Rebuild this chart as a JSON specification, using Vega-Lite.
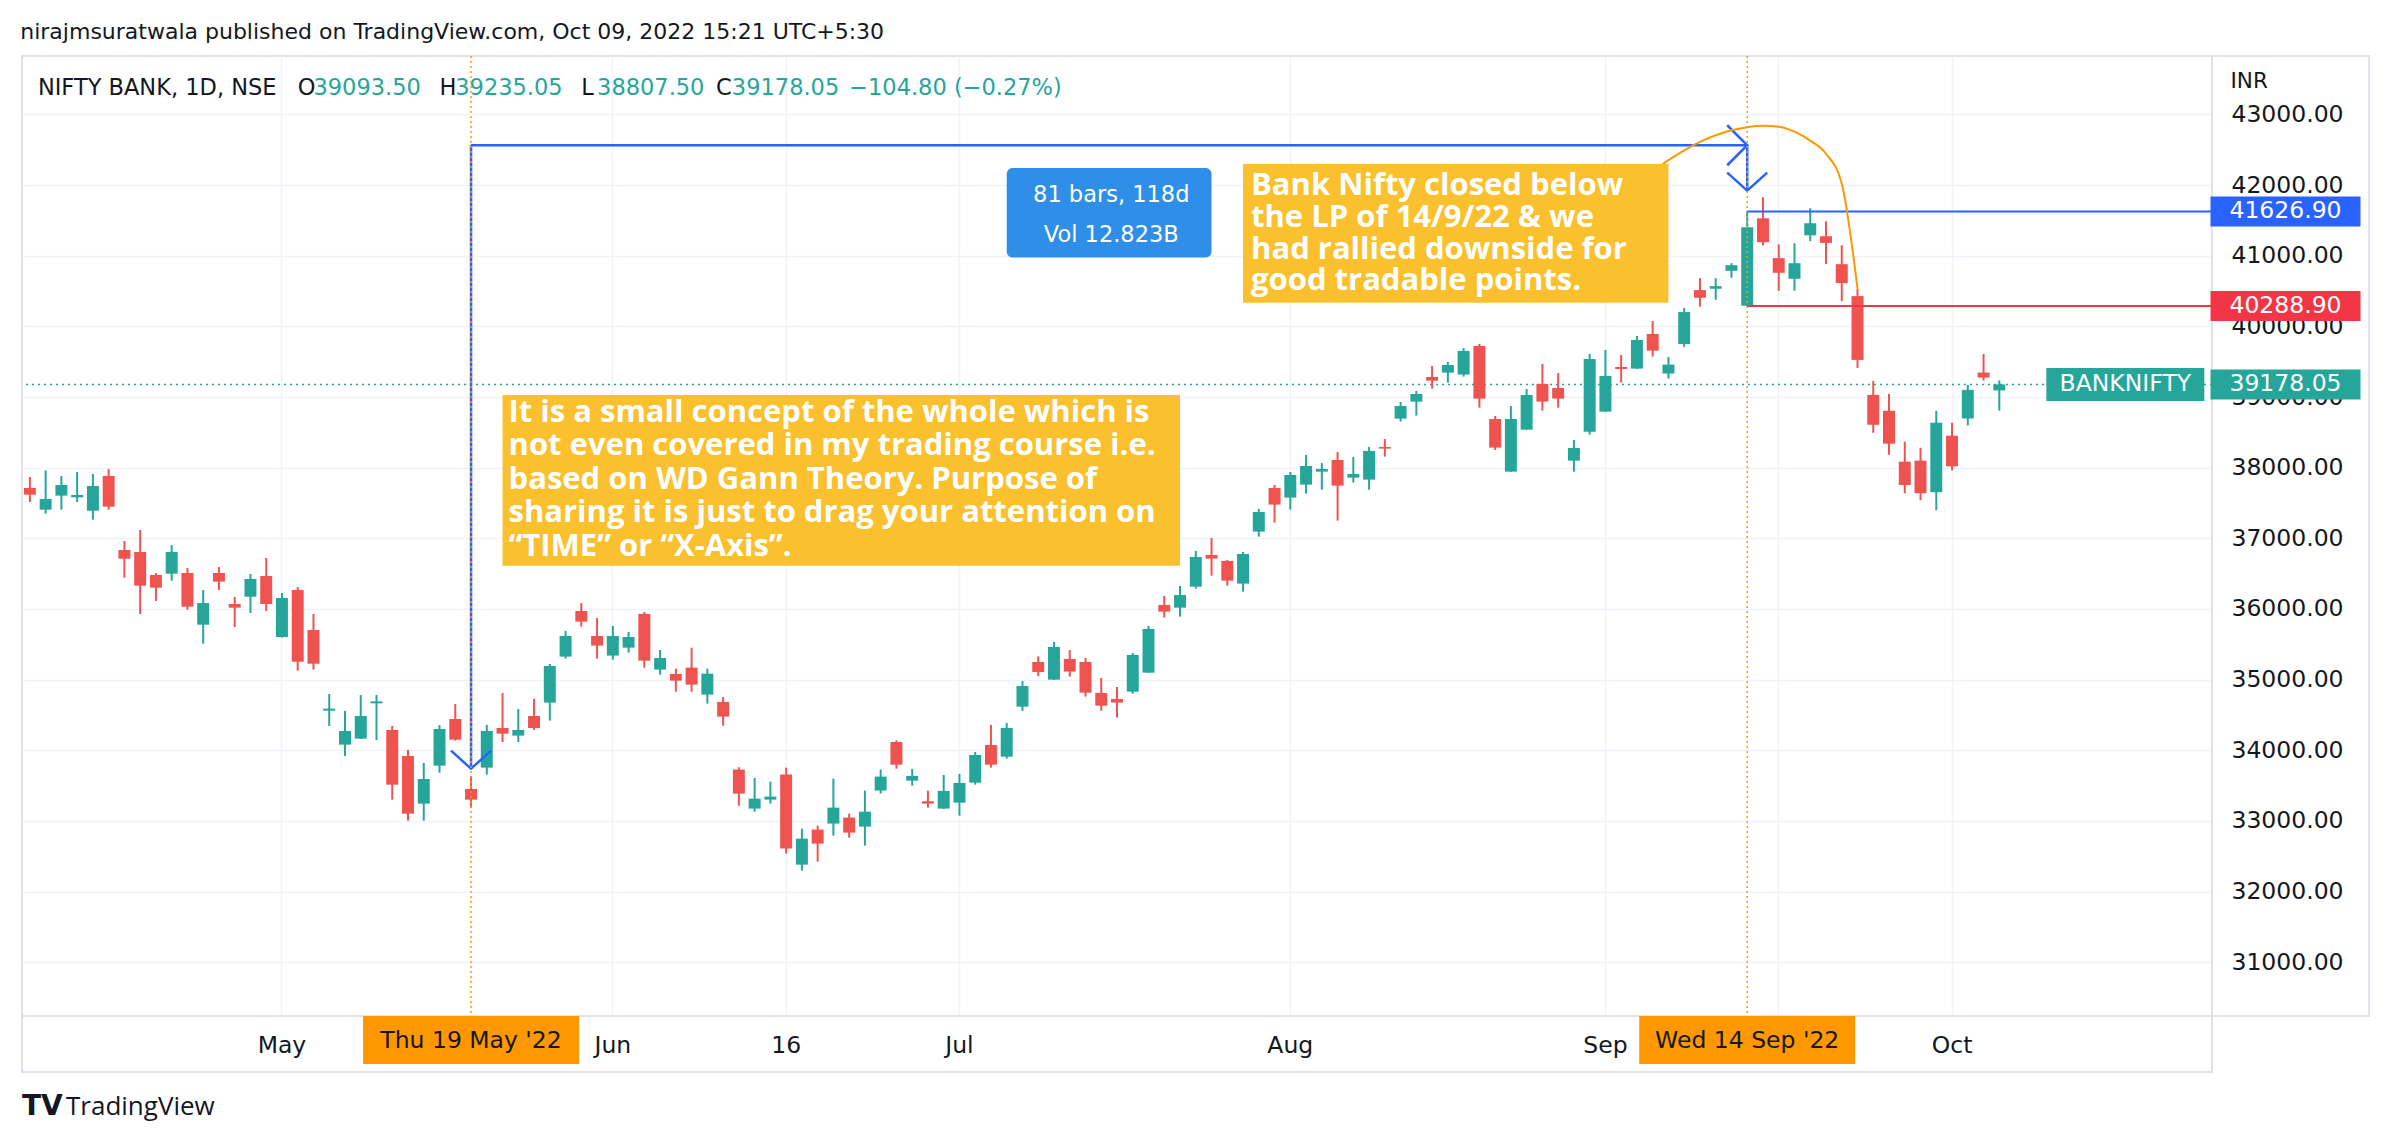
{
  "$schema": "https://vega.github.io/schema/vega-lite/v6.json",
  "padding": {"left": 20, "top": 21, "right": 21, "bottom": 0},
  "background": "#ffffff",
  "bounds": "flush",
  "spacing": 0,
  "columns": 2,
  "title": {"text": "nirajmsuratwala published on TradingView.com, Oct 09, 2022 15:21 UTC+5:30", "anchor": "start", "font": "DejaVu Sans", "fontSize": 22, "fontWeight": "normal", "color": "#131722", "offset": 10},
  "config": {"view": {"stroke": "#E0E3EB", "strokeWidth": 2}, "font": "DejaVu Sans"},
  "datasets": {
    "ohlc": [
      {"d":"2022-04-06","o":37712,"h":37868,"l":37514,"c":37618},
      {"d":"2022-04-07","o":37406,"h":37962,"l":37349,"c":37557},
      {"d":"2022-04-08","o":37604,"h":37882,"l":37406,"c":37755},
      {"d":"2022-04-11","o":37580,"h":37939,"l":37514,"c":37613},
      {"d":"2022-04-12","o":37391,"h":37910,"l":37264,"c":37741},
      {"d":"2022-04-13","o":37882,"h":37981,"l":37406,"c":37448},
      {"d":"2022-04-18","o":36835,"h":36962,"l":36443,"c":36712},
      {"d":"2022-04-19","o":36807,"h":37118,"l":35929,"c":36330},
      {"d":"2022-04-20","o":36481,"h":36509,"l":36113,"c":36302},
      {"d":"2022-04-21","o":36500,"h":36906,"l":36401,"c":36807},
      {"d":"2022-04-22","o":36509,"h":36580,"l":35990,"c":36033},
      {"d":"2022-04-25","o":35778,"h":36269,"l":35509,"c":36085},
      {"d":"2022-04-26","o":36509,"h":36594,"l":36269,"c":36387},
      {"d":"2022-04-27","o":36071,"h":36170,"l":35745,"c":36019},
      {"d":"2022-04-28","o":36174,"h":36495,"l":35943,"c":36425},
      {"d":"2022-04-29","o":36467,"h":36722,"l":35972,"c":36071},
      {"d":"2022-05-02","o":35604,"h":36226,"l":35595,"c":36156},
      {"d":"2022-05-04","o":36269,"h":36311,"l":35127,"c":35255},
      {"d":"2022-05-05","o":35703,"h":35929,"l":35141,"c":35226},
      {"d":"2022-05-06","o":34561,"h":34797,"l":34344,"c":34590},
      {"d":"2022-05-09","o":34080,"h":34557,"l":33920,"c":34274},
      {"d":"2022-05-10","o":34165,"h":34783,"l":34160,"c":34486},
      {"d":"2022-05-11","o":34665,"h":34783,"l":34146,"c":34693},
      {"d":"2022-05-12","o":34288,"h":34344,"l":33302,"c":33514},
      {"d":"2022-05-13","o":33920,"h":34005,"l":33005,"c":33104},
      {"d":"2022-05-16","o":33245,"h":33821,"l":33005,"c":33594},
      {"d":"2022-05-17","o":33783,"h":34358,"l":33684,"c":34302},
      {"d":"2022-05-18","o":34443,"h":34656,"l":34137,"c":34151},
      {"d":"2022-05-19","o":33453,"h":33637,"l":33189,"c":33302},
      {"d":"2022-05-20","o":33755,"h":34359,"l":33656,"c":34274},
      {"d":"2022-05-23","o":34316,"h":34812,"l":34118,"c":34236},
      {"d":"2022-05-24","o":34208,"h":34585,"l":34118,"c":34288},
      {"d":"2022-05-25","o":34486,"h":34727,"l":34288,"c":34316},
      {"d":"2022-05-26","o":34675,"h":35222,"l":34420,"c":35194},
      {"d":"2022-05-27","o":35326,"h":35689,"l":35298,"c":35618},
      {"d":"2022-05-30","o":35972,"h":36085,"l":35750,"c":35821},
      {"d":"2022-05-31","o":35618,"h":35873,"l":35298,"c":35482},
      {"d":"2022-06-01","o":35340,"h":35760,"l":35283,"c":35618},
      {"d":"2022-06-02","o":35453,"h":35675,"l":35382,"c":35604},
      {"d":"2022-06-03","o":35930,"h":35958,"l":35170,"c":35269},
      {"d":"2022-06-06","o":35142,"h":35420,"l":35071,"c":35307},
      {"d":"2022-06-07","o":35080,"h":35156,"l":34830,"c":34986},
      {"d":"2022-06-08","o":35170,"h":35453,"l":34830,"c":34930},
      {"d":"2022-06-09","o":34788,"h":35156,"l":34661,"c":35085},
      {"d":"2022-06-10","o":34684,"h":34755,"l":34349,"c":34477},
      {"d":"2022-06-13","o":33727,"h":33760,"l":33217,"c":33387},
      {"d":"2022-06-14","o":33175,"h":33609,"l":33132,"c":33316},
      {"d":"2022-06-15","o":33302,"h":33557,"l":33246,"c":33345},
      {"d":"2022-06-16","o":33656,"h":33755,"l":32538,"c":32609},
      {"d":"2022-06-17","o":32382,"h":32892,"l":32297,"c":32750},
      {"d":"2022-06-20","o":32878,"h":32934,"l":32425,"c":32680},
      {"d":"2022-06-21","o":32963,"h":33599,"l":32793,"c":33189},
      {"d":"2022-06-22","o":33048,"h":33104,"l":32764,"c":32835},
      {"d":"2022-06-23","o":32920,"h":33430,"l":32651,"c":33132},
      {"d":"2022-06-24","o":33430,"h":33727,"l":33387,"c":33628},
      {"d":"2022-06-27","o":34118,"h":34142,"l":33741,"c":33797},
      {"d":"2022-06-28","o":33571,"h":33736,"l":33500,"c":33637},
      {"d":"2022-06-29","o":33279,"h":33430,"l":33189,"c":33246},
      {"d":"2022-06-30","o":33175,"h":33651,"l":33170,"c":33425},
      {"d":"2022-07-01","o":33259,"h":33665,"l":33075,"c":33538},
      {"d":"2022-07-04","o":33542,"h":33976,"l":33514,"c":33934},
      {"d":"2022-07-05","o":34075,"h":34359,"l":33755,"c":33797},
      {"d":"2022-07-06","o":33910,"h":34387,"l":33882,"c":34316},
      {"d":"2022-07-07","o":34618,"h":34980,"l":34557,"c":34910},
      {"d":"2022-07-08","o":35250,"h":35330,"l":35050,"c":35109},
      {"d":"2022-07-11","o":35000,"h":35533,"l":34995,"c":35463},
      {"d":"2022-07-12","o":35293,"h":35420,"l":35043,"c":35114},
      {"d":"2022-07-13","o":35250,"h":35307,"l":34760,"c":34816},
      {"d":"2022-07-14","o":34812,"h":35024,"l":34562,"c":34632},
      {"d":"2022-07-15","o":34727,"h":34897,"l":34463,"c":34675},
      {"d":"2022-07-18","o":34830,"h":35378,"l":34802,"c":35349},
      {"d":"2022-07-19","o":35099,"h":35760,"l":35095,"c":35717},
      {"d":"2022-07-20","o":36057,"h":36184,"l":35878,"c":35963},
      {"d":"2022-07-21","o":36019,"h":36326,"l":35892,"c":36198},
      {"d":"2022-07-22","o":36316,"h":36821,"l":36288,"c":36736},
      {"d":"2022-07-25","o":36764,"h":37005,"l":36472,"c":36713},
      {"d":"2022-07-26","o":36680,"h":36694,"l":36330,"c":36401},
      {"d":"2022-07-27","o":36359,"h":36807,"l":36246,"c":36779},
      {"d":"2022-07-28","o":37095,"h":37416,"l":37024,"c":37373},
      {"d":"2022-07-29","o":37713,"h":37755,"l":37222,"c":37477},
      {"d":"2022-08-01","o":37576,"h":37939,"l":37406,"c":37897},
      {"d":"2022-08-02","o":37760,"h":38180,"l":37633,"c":38024},
      {"d":"2022-08-03","o":37944,"h":38067,"l":37689,"c":37982},
      {"d":"2022-08-04","o":38109,"h":38222,"l":37251,"c":37746},
      {"d":"2022-08-05","o":37859,"h":38152,"l":37788,"c":37911},
      {"d":"2022-08-08","o":37831,"h":38293,"l":37689,"c":38237},
      {"d":"2022-08-10","o":38293,"h":38406,"l":38156,"c":38270},
      {"d":"2022-08-11","o":38694,"h":38930,"l":38652,"c":38873},
      {"d":"2022-08-12","o":38935,"h":39086,"l":38737,"c":39043},
      {"d":"2022-08-16","o":39284,"h":39439,"l":39119,"c":39232},
      {"d":"2022-08-17","o":39345,"h":39496,"l":39203,"c":39453},
      {"d":"2022-08-18","o":39317,"h":39694,"l":39288,"c":39652},
      {"d":"2022-08-19","o":39722,"h":39751,"l":38850,"c":38977},
      {"d":"2022-08-22","o":38689,"h":38732,"l":38251,"c":38284},
      {"d":"2022-08-23","o":37944,"h":38873,"l":37940,"c":38689},
      {"d":"2022-08-24","o":38538,"h":39114,"l":38535,"c":39029},
      {"d":"2022-08-25","o":39185,"h":39468,"l":38807,"c":38935},
      {"d":"2022-08-26","o":39128,"h":39340,"l":38850,"c":38977},
      {"d":"2022-08-29","o":38100,"h":38392,"l":37944,"c":38279},
      {"d":"2022-08-30","o":38510,"h":39609,"l":38468,"c":39538},
      {"d":"2022-09-01","o":38793,"h":39666,"l":38790,"c":39298},
      {"d":"2022-09-02","o":39425,"h":39595,"l":39203,"c":39397},
      {"d":"2022-09-05","o":39402,"h":39864,"l":39398,"c":39807},
      {"d":"2022-09-06","o":39892,"h":40076,"l":39571,"c":39656},
      {"d":"2022-09-07","o":39332,"h":39567,"l":39261,"c":39459},
      {"d":"2022-09-08","o":39750,"h":40259,"l":39708,"c":40202},
      {"d":"2022-09-09","o":40513,"h":40682,"l":40278,"c":40405},
      {"d":"2022-09-12","o":40532,"h":40682,"l":40376,"c":40569},
      {"d":"2022-09-13","o":40786,"h":40894,"l":40687,"c":40866},
      {"d":"2022-09-14","o":40292,"h":41626.9,"l":40288.9,"c":41402},
      {"d":"2022-09-15","o":41529,"h":41826,"l":41148,"c":41191},
      {"d":"2022-09-16","o":40965,"h":41162,"l":40504,"c":40758},
      {"d":"2022-09-19","o":40673,"h":41176,"l":40504,"c":40894},
      {"d":"2022-09-20","o":41289,"h":41671,"l":41205,"c":41459},
      {"d":"2022-09-21","o":41275,"h":41487,"l":40880,"c":41181},
      {"d":"2022-09-22","o":40880,"h":41148,"l":40358,"c":40612},
      {"d":"2022-09-23","o":40428,"h":40527,"l":39412,"c":39525},
      {"d":"2022-09-26","o":39030,"h":39228,"l":38494,"c":38607},
      {"d":"2022-09-27","o":38805,"h":39045,"l":38183,"c":38339},
      {"d":"2022-09-28","o":38085,"h":38367,"l":37638,"c":37755},
      {"d":"2022-09-29","o":38099,"h":38282,"l":37539,"c":37638},
      {"d":"2022-09-30","o":37652,"h":38805,"l":37398,"c":38635},
      {"d":"2022-10-03","o":38452,"h":38635,"l":37962,"c":38019},
      {"d":"2022-10-04","o":38696,"h":39172,"l":38598,"c":39101},
      {"d":"2022-10-06","o":39346,"h":39609,"l":39233,"c":39275},
      {"d":"2022-10-07","o":39093.5,"h":39235.05,"l":38807.5,"c":39178.05}
    ]
  },
  "concat": [
    {
      "width": 2190,
      "height": 960,
      "layer": [
        {
          "data": {"values": [{"p": 39178.05}]},
          "mark": {"type": "rule", "color": "#26A69A", "strokeWidth": 1.5, "strokeDash": [2, 4]},
          "encoding": {"y": {"field": "p", "type": "quantitative"}}
        },
        {
          "data": {"name": "ohlc"},
          "mark": {"type": "rule", "strokeWidth": 2},
          "encoding": {
            "x": {
              "field": "d", "type": "ordinal",
              "scale": {"type": "band", "paddingInner": 0, "paddingOuter": 0, "domain": ["2022-04-06","2022-04-07","2022-04-08","2022-04-11","2022-04-12","2022-04-13","2022-04-18","2022-04-19","2022-04-20","2022-04-21","2022-04-22","2022-04-25","2022-04-26","2022-04-27","2022-04-28","2022-04-29","2022-05-02","2022-05-04","2022-05-05","2022-05-06","2022-05-09","2022-05-10","2022-05-11","2022-05-12","2022-05-13","2022-05-16","2022-05-17","2022-05-18","2022-05-19","2022-05-20","2022-05-23","2022-05-24","2022-05-25","2022-05-26","2022-05-27","2022-05-30","2022-05-31","2022-06-01","2022-06-02","2022-06-03","2022-06-06","2022-06-07","2022-06-08","2022-06-09","2022-06-10","2022-06-13","2022-06-14","2022-06-15","2022-06-16","2022-06-17","2022-06-20","2022-06-21","2022-06-22","2022-06-23","2022-06-24","2022-06-27","2022-06-28","2022-06-29","2022-06-30","2022-07-01","2022-07-04","2022-07-05","2022-07-06","2022-07-07","2022-07-08","2022-07-11","2022-07-12","2022-07-13","2022-07-14","2022-07-15","2022-07-18","2022-07-19","2022-07-20","2022-07-21","2022-07-22","2022-07-25","2022-07-26","2022-07-27","2022-07-28","2022-07-29","2022-08-01","2022-08-02","2022-08-03","2022-08-04","2022-08-05","2022-08-08","2022-08-10","2022-08-11","2022-08-12","2022-08-16","2022-08-17","2022-08-18","2022-08-19","2022-08-22","2022-08-23","2022-08-24","2022-08-25","2022-08-26","2022-08-29","2022-08-30","2022-09-01","2022-09-02","2022-09-05","2022-09-06","2022-09-07","2022-09-08","2022-09-09","2022-09-12","2022-09-13","2022-09-14","2022-09-15","2022-09-16","2022-09-19","2022-09-20","2022-09-21","2022-09-22","2022-09-23","2022-09-26","2022-09-27","2022-09-28","2022-09-29","2022-09-30","2022-10-03","2022-10-04","2022-10-06","2022-10-07","2022-10-10","2022-10-11","2022-10-12","2022-10-13","2022-10-14","2022-10-17","2022-10-18","2022-10-19","2022-10-20","2022-10-21","2022-10-24","2022-10-25","2022-10-27"]},
              "axis": {"values": ["2022-05-02","2022-06-01","2022-06-16","2022-07-01","2022-08-01","2022-09-01","2022-09-16","2022-10-03"], "grid": true, "gridColor": "#F0F3FA", "gridWidth": 1.5, "labels": false, "ticks": false, "domain": false, "title": null, "bandPosition": 0.5}
            },
            "y": {
              "field": "l", "type": "quantitative",
              "scale": {"domain": [30240, 43826], "nice": false, "zero": false},
              "axis": {"values": [31000,32000,33000,34000,35000,36000,37000,38000,39000,40000,41000,42000,43000], "grid": true, "gridColor": "#F0F3FA", "gridWidth": 1.5, "labels": false, "ticks": false, "domain": false, "title": null}
            },
            "y2": {"field": "h"},
            "color": {"condition": {"test": "datum.c >= datum.o", "value": "#26A69A"}, "value": "#EF5350"}
          }
        },
        {
          "data": {"name": "ohlc"},
          "mark": {"type": "bar", "width": {"band": 0.76}},
          "encoding": {
            "x": {"field": "d", "type": "ordinal"},
            "y": {"field": "o", "type": "quantitative"},
            "y2": {"field": "c"},
            "color": {"condition": {"test": "datum.c >= datum.o", "value": "#26A69A"}, "value": "#EF5350"}
          }
        },
        {
          "data": {"values": [
            {"d": "2022-05-19", "d2": "2022-09-14", "p": 42563, "p2": 42563},
            {"d": "2022-05-19", "d2": "2022-05-19", "p": 42563, "p2": 33740},
            {"d": "2022-09-14", "d2": "2022-09-14", "p": 42563, "p2": 41920}
          ]},
          "mark": {"type": "rule", "color": "#2962FF", "strokeWidth": 2.5},
          "encoding": {
            "x": {"field": "d", "type": "ordinal"},
            "x2": {"field": "d2"},
            "y": {"field": "p", "type": "quantitative"},
            "y2": {"field": "p2"}
          }
        },
        {
          "data": {"values": [
            {"d": "2022-05-19", "p": 33740, "k": "down"},
            {"d": "2022-09-14", "p": 41920, "k": "down"},
            {"d": "2022-09-14", "p": 42563, "k": "right"}
          ]},
          "mark": {"type": "point", "filled": false, "size": 1600, "strokeWidth": 2.5, "color": "#2962FF", "opacity": 1},
          "encoding": {
            "x": {"field": "d", "type": "ordinal"},
            "y": {"field": "p", "type": "quantitative"},
            "shape": {"condition": {"test": "datum.k == 'right'", "value": "M-1,-1L0,0L-1,1"}, "value": "M-1,-0.9L0,0L1,-0.9"}
          }
        },
        {
          "data": {"values": [{"d": "2022-05-19"}, {"d": "2022-09-14"}]},
          "mark": {"type": "rule", "color": "#FF9800", "strokeWidth": 1.5, "strokeDash": [2, 3]},
          "encoding": {"x": {"field": "d", "type": "ordinal"}}
        },
        {
          "data": {"values": [
            {"d": "2022-09-14", "d2": "2022-10-27", "p": 41626.9, "k": "hi"},
            {"d": "2022-09-14", "d2": "2022-10-27", "p": 40288.9, "k": "lo"}
          ]},
          "mark": {"type": "rule", "strokeWidth": 2},
          "encoding": {
            "x": {"field": "d", "type": "ordinal"},
            "x2": {"field": "d2", "bandPosition": 1},
            "y": {"field": "p", "type": "quantitative"},
            "color": {"condition": {"test": "datum.k == 'hi'", "value": "#2962FF"}, "value": "#F23645"}
          }
        },
        {
          "data": {"values": [
            {"d": "2022-09-06", "p": 42185},
            {"d": "2022-09-07", "p": 42352},
            {"d": "2022-09-08", "p": 42492},
            {"d": "2022-09-09", "p": 42611},
            {"d": "2022-09-12", "p": 42705},
            {"d": "2022-09-13", "p": 42775},
            {"d": "2022-09-14", "p": 42819},
            {"d": "2022-09-15", "p": 42840},
            {"d": "2022-09-16", "p": 42826},
            {"d": "2022-09-19", "p": 42756},
            {"d": "2022-09-20", "p": 42629},
            {"d": "2022-09-21", "p": 42443},
            {"d": "2022-09-22", "p": 42019},
            {"d": "2022-09-23", "p": 40532}
          ]},
          "mark": {"type": "line", "color": "#FF9800", "strokeWidth": 2, "interpolate": "monotone"},
          "encoding": {
            "x": {"field": "d", "type": "ordinal"},
            "y": {"field": "p", "type": "quantitative"}
          }
        },
        {
          "data": {"values": [{"d": "2022-07-06", "d2": "2022-07-25", "top": 42242, "bot": 40973}]},
          "mark": {"type": "rect", "color": "#2F8FE8", "cornerRadius": 6},
          "encoding": {
            "x": {"field": "d", "type": "ordinal", "bandPosition": 0.5},
            "x2": {"field": "d2", "bandPosition": 0.5},
            "y": {"field": "top", "type": "quantitative"},
            "y2": {"field": "bot"}
          }
        },
        {
          "data": {"values": [{"d": "2022-07-14", "p": 41859, "t": ["81 bars, 118d", "Vol 12.823B"]}]},
          "mark": {"type": "text", "color": "#FFFFFF", "font": "DejaVu Sans", "fontSize": 22.5, "lineHeight": 40, "align": "center", "baseline": "middle", "dx": 10},
          "encoding": {
            "x": {"field": "d", "type": "ordinal"},
            "y": {"field": "p", "type": "quantitative"},
            "text": {"field": "t"}
          }
        },
        {
          "data": {"values": [{"d": "2022-05-23", "d2": "2022-07-21", "top": 39029, "bot": 36613}]},
          "mark": {"type": "rect", "color": "#FBC02D"},
          "encoding": {
            "x": {"field": "d", "type": "ordinal", "bandPosition": 0.5},
            "x2": {"field": "d2", "bandPosition": 0.5},
            "y": {"field": "top", "type": "quantitative"},
            "y2": {"field": "bot"}
          }
        },
        {
          "data": {"values": [{"d": "2022-05-23", "top": 39029, "t": ["It is a small concept of the whole which is", "not even covered in my trading course i.e.", "based on WD Gann Theory. Purpose of", "sharing it is just to drag your attention on", "“TIME” or “X-Axis”."]}]},
          "mark": {"type": "text", "color": "#FFFFFF", "font": "Open Sans", "fontWeight": "bold", "fontSize": 31, "lineHeight": 33.5, "align": "left", "baseline": "top", "dx": 6, "dy": 3},
          "encoding": {
            "x": {"field": "d", "type": "ordinal"},
            "y": {"field": "top", "type": "quantitative"},
            "text": {"field": "t"}
          }
        },
        {
          "data": {"values": [{"d": "2022-07-27", "d2": "2022-09-07", "top": 42296, "bot": 40334}]},
          "mark": {"type": "rect", "color": "#FBC02D"},
          "encoding": {
            "x": {"field": "d", "type": "ordinal", "bandPosition": 0.5},
            "x2": {"field": "d2", "bandPosition": 0.5},
            "y": {"field": "top", "type": "quantitative"},
            "y2": {"field": "bot"}
          }
        },
        {
          "data": {"values": [{"d": "2022-07-27", "top": 42296, "t": ["Bank Nifty closed below", "the LP of 14/9/22 & we", "had rallied downside for", "good tradable points."]}]},
          "mark": {"type": "text", "color": "#FFFFFF", "font": "Open Sans", "fontWeight": "bold", "fontSize": 31, "lineHeight": 31.7, "align": "left", "baseline": "top", "dx": 8, "dy": 7},
          "encoding": {
            "x": {"field": "d", "type": "ordinal"},
            "y": {"field": "top", "type": "quantitative"},
            "text": {"field": "t"}
          }
        },
        {
          "data": {"values": [{"d": "2022-10-19", "p": 39178.05, "t": "BANKNIFTY"}]},
          "mark": {"type": "point", "shape": "M-1,-0.209H1V0.209H-1Z", "size": 24964, "filled": true, "opacity": 1, "color": "#26A69A"},
          "encoding": {
            "x": {"field": "d", "type": "ordinal"},
            "y": {"field": "p", "type": "quantitative"}
          }
        },
        {
          "data": {"values": [{"d": "2022-10-19", "p": 39178.05, "t": "BANKNIFTY"}]},
          "mark": {"type": "text", "color": "#FFFFFF", "font": "DejaVu Sans", "fontSize": 23.5, "align": "center", "baseline": "middle"},
          "encoding": {
            "x": {"field": "d", "type": "ordinal"},
            "y": {"field": "p", "type": "quantitative"},
            "text": {"field": "t"}
          }
        },
        {
          "data": {"values": [{"d": "2022-04-06", "t": "NIFTY BANK, 1D, NSE"}]},
          "mark": {"type": "text", "color": "#131722", "font": "DejaVu Sans", "fontSize": 22.5, "align": "left", "baseline": "middle", "dx": 8},
          "encoding": {
            "x": {"field": "d", "type": "ordinal"},
            "y": {"datum": 43373, "type": "quantitative"},
            "text": {"field": "t"}
          }
        },
        {
          "data": {"values": [{"d": "2022-05-04", "t": "O"}, {"d": "2022-05-17", "t": "H"}, {"d": "2022-05-30", "t": "L"}]},
          "mark": {"type": "text", "color": "#131722", "font": "DejaVu Sans", "fontSize": 22.5, "align": "left", "baseline": "middle"},
          "encoding": {
            "x": {"field": "d", "type": "ordinal"},
            "y": {"datum": 43373, "type": "quantitative"},
            "text": {"field": "t"}
          }
        },
        {
          "data": {"values": [{"d": "2022-06-10", "t": "C"}]},
          "mark": {"type": "text", "color": "#131722", "font": "DejaVu Sans", "fontSize": 22.5, "align": "left", "baseline": "middle", "dx": -7},
          "encoding": {
            "x": {"field": "d", "type": "ordinal"},
            "y": {"datum": 43373, "type": "quantitative"},
            "text": {"field": "t"}
          }
        },
        {
          "data": {"values": [{"d": "2022-05-05", "t": "39093.50"}, {"d": "2022-05-18", "t": "39235.05"}, {"d": "2022-05-31", "t": "38807.50"}, {"d": "2022-06-22", "t": "−104.80 (−0.27%)"}]},
          "mark": {"type": "text", "color": "#26A69A", "font": "DejaVu Sans", "fontSize": 22.5, "align": "left", "baseline": "middle"},
          "encoding": {
            "x": {"field": "d", "type": "ordinal"},
            "y": {"datum": 43373, "type": "quantitative"},
            "text": {"field": "t"}
          }
        },
        {
          "data": {"values": [{"d": "2022-06-13", "t": "39178.05"}]},
          "mark": {"type": "text", "color": "#26A69A", "font": "DejaVu Sans", "fontSize": 22.5, "align": "left", "baseline": "middle", "dx": -7},
          "encoding": {
            "x": {"field": "d", "type": "ordinal"},
            "y": {"datum": 43373, "type": "quantitative"},
            "text": {"field": "t"}
          }
        }
      ]
    },
    {
      "width": 157,
      "height": 960,
      "data": {"values": [{"p": 41626.9, "k": "hi"}, {"p": 40288.9, "k": "lo"}, {"p": 39178.05, "k": "last"}]},
      "layer": [
        {
          "mark": {"type": "point", "shape": "M-1,-0.2H1V0.2H-1Z", "size": 22500, "filled": true, "opacity": 1, "xOffset": -5},
          "encoding": {
            "y": {
              "field": "p", "type": "quantitative",
              "scale": {"domain": [30240, 43826], "nice": false, "zero": false},
              "axis": {"orient": "left", "values": [31000,32000,33000,34000,35000,36000,37000,38000,39000,40000,41000,42000,43000], "format": ".2f", "grid": false, "ticks": false, "tickSize": 0, "domain": false, "labelAlign": "center", "labelBaseline": "middle", "labelPadding": -75, "labelOverlap": false, "labelFont": "DejaVu Sans", "labelFontSize": 23.5, "labelColor": "#131722", "title": "INR", "titleAngle": 0, "titleAlign": "left", "titleBaseline": "middle", "titleX": 18, "titleY": 25, "titleFont": "DejaVu Sans", "titleFontSize": 21.5, "titleFontWeight": "normal", "titleColor": "#131722"}
            },
            "color": {"condition": [{"test": "datum.k == 'hi'", "value": "#2962FF"}, {"test": "datum.k == 'lo'", "value": "#F23645"}], "value": "#26A69A"}
          }
        },
        {
          "mark": {"type": "text", "color": "#FFFFFF", "font": "DejaVu Sans", "fontSize": 23.5, "baseline": "middle", "align": "center", "xOffset": -5},
          "encoding": {
            "y": {"field": "p", "type": "quantitative"},
            "text": {"field": "p", "type": "quantitative", "format": ".2f"}
          }
        }
      ]
    },
    {
      "width": 2190,
      "height": 56,
      "data": {"values": [{"d": "2022-05-19", "t": "Thu 19 May '22"}, {"d": "2022-09-14", "t": "Wed 14 Sep '22"}]},
      "layer": [
        {
          "mark": {"type": "point", "shape": "M-1,-0.222H1V0.222H-1Z", "size": 46656, "filled": true, "opacity": 1, "color": "#FF9800", "yOffset": -4},
          "encoding": {
            "x": {
              "field": "d", "type": "ordinal",
              "scale": {"type": "band", "paddingInner": 0, "paddingOuter": 0, "domain": ["2022-04-06","2022-04-07","2022-04-08","2022-04-11","2022-04-12","2022-04-13","2022-04-18","2022-04-19","2022-04-20","2022-04-21","2022-04-22","2022-04-25","2022-04-26","2022-04-27","2022-04-28","2022-04-29","2022-05-02","2022-05-04","2022-05-05","2022-05-06","2022-05-09","2022-05-10","2022-05-11","2022-05-12","2022-05-13","2022-05-16","2022-05-17","2022-05-18","2022-05-19","2022-05-20","2022-05-23","2022-05-24","2022-05-25","2022-05-26","2022-05-27","2022-05-30","2022-05-31","2022-06-01","2022-06-02","2022-06-03","2022-06-06","2022-06-07","2022-06-08","2022-06-09","2022-06-10","2022-06-13","2022-06-14","2022-06-15","2022-06-16","2022-06-17","2022-06-20","2022-06-21","2022-06-22","2022-06-23","2022-06-24","2022-06-27","2022-06-28","2022-06-29","2022-06-30","2022-07-01","2022-07-04","2022-07-05","2022-07-06","2022-07-07","2022-07-08","2022-07-11","2022-07-12","2022-07-13","2022-07-14","2022-07-15","2022-07-18","2022-07-19","2022-07-20","2022-07-21","2022-07-22","2022-07-25","2022-07-26","2022-07-27","2022-07-28","2022-07-29","2022-08-01","2022-08-02","2022-08-03","2022-08-04","2022-08-05","2022-08-08","2022-08-10","2022-08-11","2022-08-12","2022-08-16","2022-08-17","2022-08-18","2022-08-19","2022-08-22","2022-08-23","2022-08-24","2022-08-25","2022-08-26","2022-08-29","2022-08-30","2022-09-01","2022-09-02","2022-09-05","2022-09-06","2022-09-07","2022-09-08","2022-09-09","2022-09-12","2022-09-13","2022-09-14","2022-09-15","2022-09-16","2022-09-19","2022-09-20","2022-09-21","2022-09-22","2022-09-23","2022-09-26","2022-09-27","2022-09-28","2022-09-29","2022-09-30","2022-10-03","2022-10-04","2022-10-06","2022-10-07","2022-10-10","2022-10-11","2022-10-12","2022-10-13","2022-10-14","2022-10-17","2022-10-18","2022-10-19","2022-10-20","2022-10-21","2022-10-24","2022-10-25","2022-10-27"]},
              "axis": {"orient": "top", "values": ["2022-05-02","2022-06-01","2022-06-16","2022-07-01","2022-08-01","2022-09-01","2022-10-03"], "labelExpr": "datum.value == '2022-06-16' ? '16' : utcFormat(toDate(datum.value), '%b')", "labelPadding": -29, "labelBaseline": "middle", "labelAngle": 0, "labelFont": "DejaVu Sans", "labelFontSize": 23.5, "labelColor": "#131722", "labelOverlap": false, "labelFlush": false, "ticks": false, "tickSize": 0, "domain": false, "grid": false, "title": null, "bandPosition": 0.5}
            }
          }
        },
        {
          "mark": {"type": "text", "font": "DejaVu Sans", "fontSize": 23.5, "color": "#131722", "baseline": "middle", "align": "center", "yOffset": -3},
          "encoding": {
            "x": {"field": "d", "type": "ordinal"},
            "text": {"field": "t"}
          }
        }
      ]
    },
    {
      "width": 157,
      "height": 56,
      "data": {"values": [{"t": " "}]},
      "mark": {"type": "text"},
      "encoding": {"text": {"field": "t"}}
    },
    {
      "width": 2190,
      "height": 70,
      "view": {"stroke": null},
      "data": {"values": [{"a": "TV", "b": "TradingView"}]},
      "layer": [
        {
          "mark": {"type": "text", "align": "left", "baseline": "middle", "font": "DejaVu Sans", "fontWeight": "bold", "fontSize": 28, "color": "#131722"},
          "encoding": {
            "x": {"datum": 0, "type": "quantitative", "scale": {"domain": [0, 1]}, "axis": null},
            "text": {"field": "a"}
          }
        },
        {
          "mark": {"type": "text", "align": "left", "baseline": "middle", "font": "Open Sans", "fontSize": 26, "color": "#131722", "dx": 44},
          "encoding": {
            "x": {"datum": 0, "type": "quantitative"},
            "text": {"field": "b"}
          }
        }
      ]
    }
  ]
}
